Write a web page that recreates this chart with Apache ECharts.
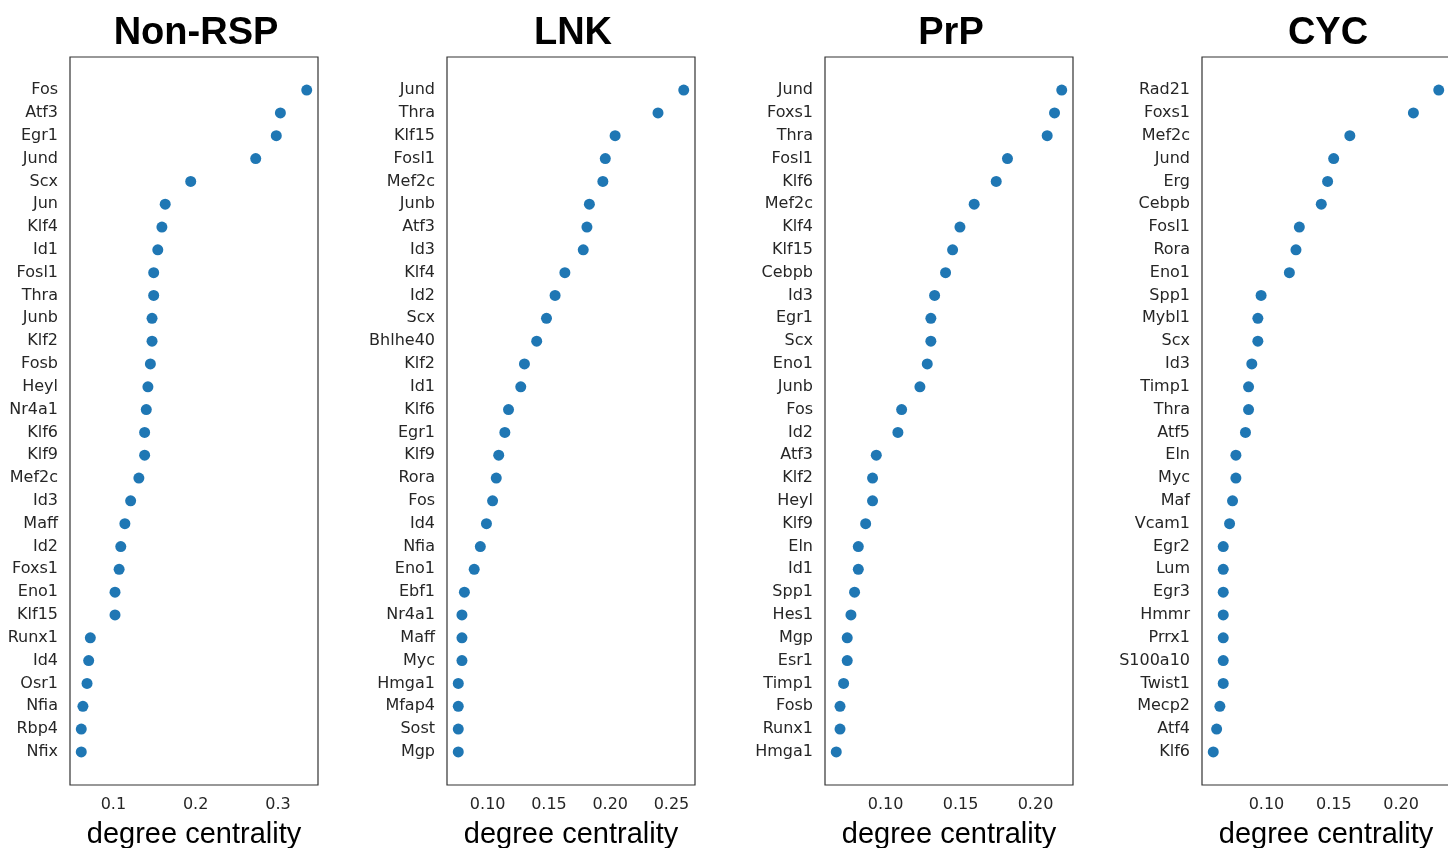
<!DOCTYPE html>
<html>
<head>
<meta charset="utf-8">
<script src="https://cdn.jsdelivr.net/npm/echarts@6/dist/echarts.min.js"></script>
<style>html,body{margin:0;padding:0;background:#fff}#c{width:1448px;height:848px}</style>
</head>
<body>
<div id="c"></div>
<script>
// ---- data ----
const titles = ["Non-RSP", "LNK", "PrP", "CYC"];

const genesNonRSP = ["Fos","Atf3","Egr1","Jund","Scx","Jun","Klf4","Id1","Fosl1","Thra","Junb","Klf2","Fosb","Heyl","Nr4a1","Klf6","Klf9","Mef2c","Id3","Maff","Id2","Foxs1","Eno1","Klf15","Runx1","Id4","Osr1","Nfia","Rbp4","Nfix"];
const valuesNonRSP = [0.335,0.303,0.298,0.273,0.194,0.163,0.159,0.154,0.149,0.149,0.147,0.147,0.145,0.142,0.140,0.138,0.138,0.131,0.121,0.114,0.109,0.107,0.102,0.102,0.072,0.070,0.068,0.063,0.061,0.061];

const genesLNK = ["Jund","Thra","Klf15","Fosl1","Mef2c","Junb","Atf3","Id3","Klf4","Id2","Scx","Bhlhe40","Klf2","Id1","Klf6","Egr1","Klf9","Rora","Fos","Id4","Nfia","Eno1","Ebf1","Nr4a1","Maff","Myc","Hmga1","Mfap4","Sost","Mgp"];
const valuesLNK = [0.260,0.239,0.204,0.196,0.194,0.183,0.181,0.178,0.163,0.155,0.148,0.140,0.130,0.127,0.117,0.114,0.109,0.107,0.104,0.099,0.094,0.089,0.081,0.079,0.079,0.079,0.076,0.076,0.076,0.076];

const genesPrP = ["Jund","Foxs1","Thra","Fosl1","Klf6","Mef2c","Klf4","Klf15","Cebpb","Id3","Egr1","Scx","Eno1","Junb","Fos","Id2","Atf3","Klf2","Heyl","Klf9","Eln","Id1","Spp1","Hes1","Mgp","Esr1","Timp1","Fosb","Runx1","Hmga1"];
const valuesPrP = [0.2175,0.2127,0.2078,0.1813,0.1738,0.1591,0.1496,0.1447,0.1400,0.1327,0.1302,0.1302,0.1278,0.1229,0.1107,0.1082,0.0938,0.0913,0.0913,0.0867,0.0818,0.0818,0.0793,0.0769,0.0744,0.0744,0.0720,0.0696,0.0696,0.0671];

const genesCYC = ["Rad21","Foxs1","Mef2c","Jund","Erg","Cebpb","Fosl1","Rora","Eno1","Spp1","Mybl1","Scx","Id3","Timp1","Thra","Atf5","Eln","Myc","Maf","Vcam1","Egr2","Lum","Egr3","Hmmr","Prrx1","S100a10","Twist1","Mecp2","Atf4","Klf6"];
const valuesCYC = [0.2279,0.2091,0.1619,0.1499,0.1454,0.1407,0.1244,0.1219,0.1170,0.0960,0.0936,0.0936,0.0891,0.0867,0.0867,0.0844,0.0773,0.0773,0.0748,0.0726,0.0679,0.0679,0.0679,0.0679,0.0679,0.0679,0.0679,0.0654,0.0630,0.0605];

const ticksNonRSP = [0.1, 0.2, 0.3];
const ticksLNK = [0.10, 0.15, 0.20, 0.25];
const ticksPrP = [0.10, 0.15, 0.20];
const ticksCYC = [0.10, 0.15, 0.20];
const tickDecimals = [1, 2, 2, 2];

// ---- build ----
const panels = [
  {genes: genesNonRSP, values: valuesNonRSP, ticks: ticksNonRSP},
  {genes: genesLNK, values: valuesLNK, ticks: ticksLNK},
  {genes: genesPrP, values: valuesPrP, ticks: ticksPrP},
  {genes: genesCYC, values: valuesCYC, ticks: ticksCYC}
];
const lefts = [70, 447, 825, 1202];
const W = 248, TOP = 57, H = 728;
const labelColor = '#262626';

const grid = [], xAxis = [], yAxis = [], series = [], graphic = [];
panels.forEach((p, i) => {
  const n = p.genes.length;
  const mn = Math.min(...p.values), mx = Math.max(...p.values);
  const pad = (mx - mn) * 0.05;
  grid.push({left: lefts[i], top: TOP, width: W, height: H, show: true,
    borderColor: '#333', borderWidth: 1.2, backgroundColor: '#fff',
    containLabel: false, outerBoundsMode: 'none'});
  xAxis.push({
    type: 'value', gridIndex: i, min: mn - pad, max: mx + pad,
    splitLine: {show: false}, axisLine: {show: false}, axisTick: {show: false},
    axisLabel: {customValues: p.ticks, margin: 12, fontSize: 16, color: labelColor,
      fontFamily: 'DejaVu Sans', formatter: v => v.toFixed(tickDecimals[i])},
    name: 'degree centrality', nameLocation: 'middle', nameGap: 35,
    nameTextStyle: {fontSize: 29, color: '#000', fontFamily: 'Liberation Sans'}
  });
  yAxis.push({
    type: 'value', gridIndex: i, inverse: true,
    min: -(n - 1) * 0.05, max: (n - 1) * 1.05,
    splitLine: {show: false}, axisLine: {show: false}, axisTick: {show: false},
    axisLabel: {customValues: p.genes.map((g, k) => k), margin: 12, fontSize: 16,
      color: labelColor, fontFamily: 'DejaVu Sans',
      formatter: v => p.genes[Math.round(v)] || ''}
  });
  series.push({
    type: 'scatter', xAxisIndex: i, yAxisIndex: i, symbolSize: 11,
    itemStyle: {color: '#1f77b4', opacity: 1}, silent: true,
    data: p.values.map((v, k) => [v, k])
  });
  graphic.push({
    type: 'text', x: lefts[i] + W / 2 + 2, y: 34,
    style: {text: titles[i], font: 'bold 38px "Liberation Sans", Arial, sans-serif',
      fill: '#000', textAlign: 'center', textVerticalAlign: 'middle'}
  });
});

const chart = echarts.init(document.getElementById('c'), null, {renderer: 'canvas'});
chart.setOption({animation: false, backgroundColor: '#fff', grid, xAxis, yAxis, series, graphic});
</script>
</body>
</html>
